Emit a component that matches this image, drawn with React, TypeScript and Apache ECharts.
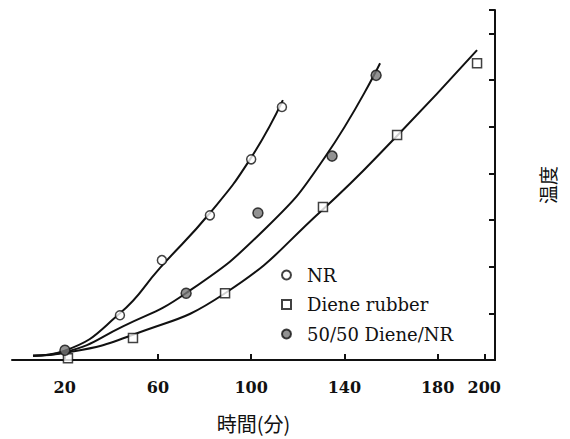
import React, { useEffect, useRef } from "react";
import * as echarts from "echarts";

// Tick labels on the time axis
const xTickValues = [20, 60, 100, 140, 180, 200];

// Measured points (time in min, temperature in tick units)
const nrPoints = [
  [43.7, 0.96],
  [61.7, 2.14],
  [82.3, 3.1],
  [100, 4.3],
  [113.2, 5.42],
];
const dienePoints = [
  [21.4, 0.04],
  [49.3, 0.47],
  [88.8, 1.43],
  [130.8, 3.28],
  [162.6, 4.82],
  [196.9, 6.36],
];
const blendPoints = [
  [20.1, 0.21],
  [72.1, 1.43],
  [102.9, 3.15],
  [134.7, 4.37],
  [153.6, 6.1],
];

// Fitted curves
const nrCurve = [
  [6.4, 0.09],
  [20, 0.2],
  [43.7, 1.0],
  [61, 1.98],
  [82.3, 3.15],
  [99.5, 4.3],
  [113.6, 5.57],
];
const blendCurve = [
  [6.4, 0.09],
  [20, 0.17],
  [45, 0.72],
  [72, 1.43],
  [106.8, 2.85],
  [131.7, 4.35],
  [155.3, 6.36],
];
const dieneCurve = [
  [6.4, 0.09],
  [20, 0.15],
  [49.3, 0.54],
  [88.8, 1.43],
  [130.4, 3.21],
  [162.1, 4.78],
  [196.9, 6.64],
];

const seriesNames = ["NR", "Diene rubber", "50/50 Diene/NR"];

export default function App() {
  const ref = useRef<HTMLDivElement>(null);
  useEffect(() => {
    if (!ref.current) return;
    const chart = echarts.init(ref.current, null, { renderer: "svg" });
    const curveStyle = { color: "#111", width: 2 };
    const curve = (data: number[][]) => ({
      type: "line",
      data,
      smooth: 0.5,
      showSymbol: false,
      symbol: "none",
      silent: true,
      lineStyle: curveStyle,
      z: 2,
    });
    chart.setOption({
      animation: false,
      backgroundColor: "#fff",
      grid: { left: 12, right: 75, top: 10, bottom: 79, containLabel: false },
      legend: {
        data: seriesNames,
        orient: "vertical",
        left: 276,
        top: 260,
        itemGap: 9.5,
        itemWidth: 9,
        itemHeight: 9,
        textStyle: {
          fontFamily: "DejaVu Serif",
          fontSize: 18,
          color: "#111",
          lineHeight: 20,
          padding: [0, 0, 0, 11],
        },
      },
      xAxis: {
        type: "value",
        min: -2.6,
        max: 204.6,
        name: "時間(分)",
        nameLocation: "middle",
        nameGap: 53,
        nameTextStyle: {
          fontFamily: "Noto Sans CJK JP",
          fontSize: 20,
          color: "#111",
        },
        axisLine: { show: true, onZero: false, lineStyle: { color: "#111", width: 2 } },
        axisTick: {
          show: true,
          inside: true,
          length: 6,
          customValues: xTickValues,
          lineStyle: { color: "#111", width: 2 },
        },
        axisLabel: {
          customValues: xTickValues,
          fontFamily: "DejaVu Serif",
          fontWeight: "bold",
          fontSize: 16,
          color: "#111",
          margin: 19,
        },
        splitLine: { show: false },
      },
      yAxis: {
        type: "value",
        position: "right",
        min: 0,
        max: 7.5,
        interval: 1,
        name: "温度",
        nameLocation: "middle",
        nameGap: 43,
        nameRotate: 90,
        nameTextStyle: {
          fontFamily: "Noto Sans CJK JP",
          fontSize: 19,
          color: "#111",
        },
        axisLine: { show: true, onZero: false, lineStyle: { color: "#111", width: 2 } },
        axisTick: {
          show: true,
          inside: true,
          length: 6,
          lineStyle: { color: "#111", width: 2 },
        },
        axisLabel: { show: false },
        splitLine: { show: false },
      },
      series: [
        curve(nrCurve),
        curve(blendCurve),
        curve(dieneCurve),
        {
          name: "NR",
          type: "scatter",
          data: nrPoints,
          symbol: "circle",
          symbolSize: 9,
          itemStyle: { color: "#fff", borderColor: "#111", borderWidth: 1.5 },
          z: 3,
        },
        {
          name: "Diene rubber",
          type: "scatter",
          data: dienePoints,
          symbol: "rect",
          symbolSize: 9,
          itemStyle: { color: "#fff", borderColor: "#111", borderWidth: 1.5 },
          z: 3,
        },
        {
          name: "50/50 Diene/NR",
          type: "scatter",
          data: blendPoints,
          symbol: "circle",
          symbolSize: 10,
          itemStyle: { color: "#777", borderColor: "#111", borderWidth: 1.5 },
          z: 3,
        },
      ],
    });
    return () => chart.dispose();
  }, []);
  return (
    <div
      ref={ref}
      style={{ position: "fixed", left: 0, top: 0, width: 570, height: 439 }}
    />
  );
}
